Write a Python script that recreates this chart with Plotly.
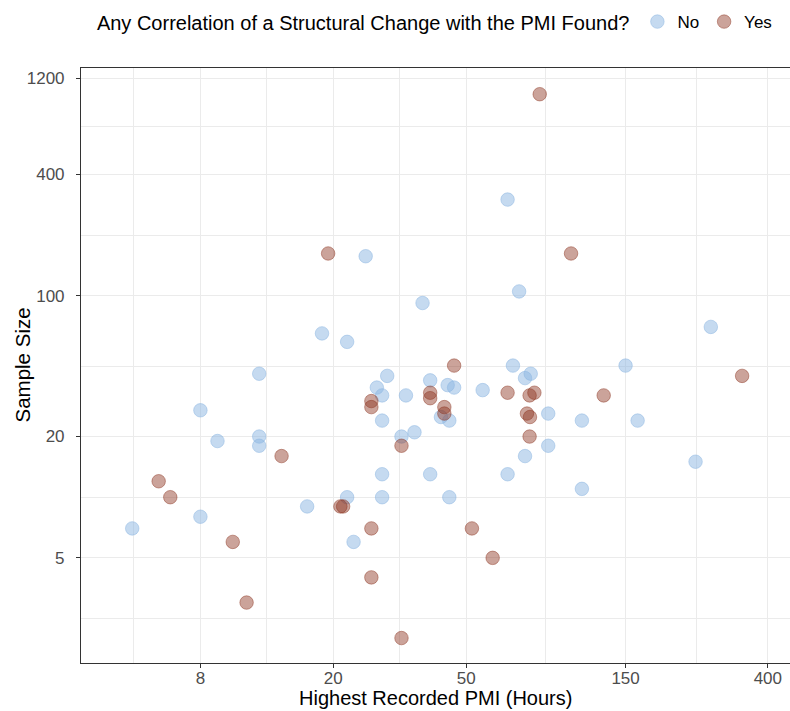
import plotly.graph_objects as go

# Data
no_pmi = [5, 8, 9, 12, 12, 12, 8, 16.7, 22, 23,
          18.5, 22, 25, 37, 29, 27, 28, 33, 39, 28,
          32, 35, 28, 28, 39, 44, 46, 42, 44.5, 56,
          69, 75, 78, 88, 111, 163, 150, 88, 75, 66.5,
          111, 243, 44.5, 66.5, 72, 270]
no_size = [7, 27, 19, 41, 20, 18, 8, 9, 10, 6,
           65, 59, 157, 92, 40, 35, 32, 32, 38, 24,
           20, 21, 13, 10, 13, 36, 35, 25, 24, 34,
           45, 39, 41, 26, 24, 24, 45, 18, 16, 13,
           11, 15, 10, 300, 105, 70]

yes_pmi = [6, 6.5, 10, 11, 14, 19.3, 21, 21.4, 26, 26,
           32, 26, 26, 32, 39, 39, 46, 43, 43, 66.5,
           77.4, 80, 76, 77.6, 77.4, 129, 335, 52, 60, 83,
           103]
yes_size = [12, 10, 6, 3, 16, 162, 9, 9, 7, 4,
            2, 30, 28, 18, 33, 31, 45, 28, 26, 33,
            32, 33, 26, 25, 20, 32, 40, 7, 5, 1000,
            162]

x_ticks = [8, 20, 50, 150, 400]
x_minor = [5.06, 12.65, 31.62, 86.6, 244.9]
y_ticks = [5, 20, 100, 400, 1200]
y_minor = [2.5, 10, 44.72, 200, 692.8]

x_title = "Highest Recorded PMI (Hours)"
y_title = "Sample Size"
legend_title = "Any Correlation of a Structural Change with the PMI Found?"

FONT = "Liberation Sans, Arial, Helvetica, sans-serif"
blue = "rgba(140,182,225,0.5)"
brown = "rgba(140,50,30,0.45)"

fig = go.Figure()
fig.add_trace(go.Scatter(
    x=no_pmi, y=no_size, mode="markers", name="No",
    marker=dict(size=13.5, color=blue, line=dict(color=blue, width=1)),
))
fig.add_trace(go.Scatter(
    x=yes_pmi, y=yes_size, mode="markers", name="Yes",
    marker=dict(size=13.5, color=brown, line=dict(color=brown, width=1)),
))

axis_common = dict(
    automargin=False,
    showgrid=True, gridcolor="#EBEBEB", gridwidth=1.3,
    showline=True, linecolor="#333333", linewidth=1.1, mirror=True,
    ticks="outside", ticklen=4, tickcolor="#333333", tickwidth=1.1,
    zeroline=False,
    tickfont=dict(family=FONT, size=17, color="#4D4D4D"),
)

fig.update_xaxes(
    type="log", range=[0.5456, 2.6684],
    tickmode="array", tickvals=x_ticks, ticktext=[str(v) for v in x_ticks],
    ticklabelstandoff=-4,
    minor=dict(tickmode="array", tickvals=x_minor, showgrid=True,
               gridcolor="#EBEBEB", gridwidth=0.7, ticks=""),
    **axis_common,
)
fig.update_yaxes(
    type="log", range=[0.1772, 3.130],
    tickmode="array", tickvals=y_ticks, ticktext=[str(v) for v in y_ticks],
    ticklabelstandoff=8,
    minor=dict(tickmode="array", tickvals=y_minor, showgrid=True,
               gridcolor="#EBEBEB", gridwidth=0.7, ticks=""),
    **axis_common,
)

fig.add_annotation(
    text=x_title, xref="paper", yref="paper", x=0.5, y=0,
    xanchor="center", yanchor="middle", yshift=-35, showarrow=False,
    font=dict(family=FONT, size=20, color="black"),
)
fig.add_annotation(
    text=y_title, xref="paper", yref="paper", x=0, y=0.5,
    xanchor="center", yanchor="middle", xshift=-59, textangle=-90,
    showarrow=False, font=dict(family=FONT, size=20.5, color="black"),
)

fig.update_layout(
    width=790, height=711,
    margin=dict(l=81, r=0, t=68, b=48),
    plot_bgcolor="white", paper_bgcolor="white",
    font=dict(family=FONT),
    showlegend=True,
    legend=dict(
        orientation="h",
        xref="container", yref="container",
        x=0.1201, xanchor="left", y=0.969, yanchor="middle",
        title=dict(text=legend_title, side="left",
                   font=dict(family=FONT, size=20, color="black")),
        font=dict(family=FONT, size=17, color="black"),
        bgcolor="rgba(0,0,0,0)",
    ),
)

# remove the default 8px body margin so the figure fills the window exactly
fig.write_html(
    "out.html",
    config={"displayModeBar": False},
    post_script=("document.body.style.margin='0';"
                 "document.body.style.overflow='hidden';"
                 "document.documentElement.style.overflow='hidden';"),
)
